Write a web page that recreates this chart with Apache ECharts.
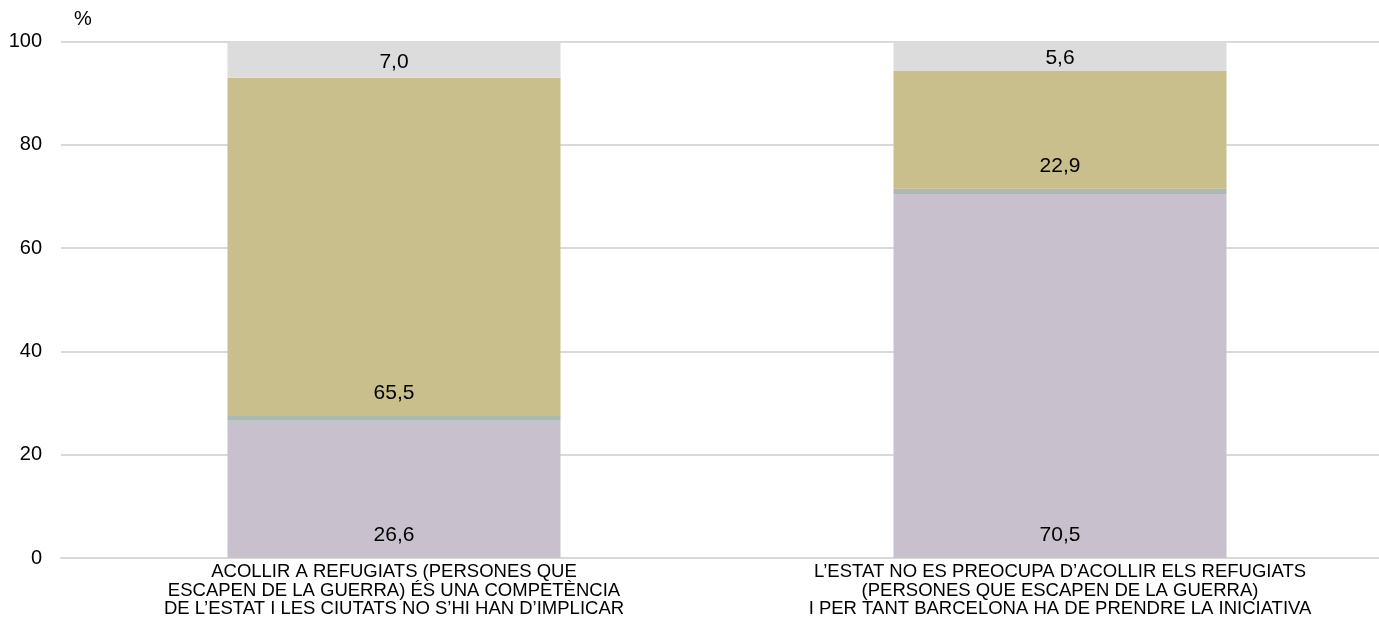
<!DOCTYPE html>
<html>
<head>
<meta charset="utf-8">
<script src="https://cdn.jsdelivr.net/npm/echarts@6/dist/echarts.min.js"></script>
<style>
  html, body { margin: 0; padding: 0; background: #fff; }
  #chart { width: 1379px; height: 623px; }
</style>
</head>
<body>
<div id="chart"></div>
<script>
// categories (statements)
var categories = [
    "ACOLLIR A REFUGIATS (PERSONES QUE\nESCAPEN DE LA GUERRA) ÉS UNA COMPETÈNCIA\nDE L\u2019ESTAT I LES CIUTATS NO S\u2019HI HAN D\u2019IMPLICAR",
    "L\u2019ESTAT NO ES PREOCUPA D\u2019ACOLLIR ELS REFUGIATS\n(PERSONES QUE ESCAPEN DE LA GUERRA)\nI PER TANT BARCELONA HA DE PRENDRE LA INICIATIVA"
];
// series values (%)
var deAcord = [26.6, 70.5];
var niUnaNiAltra = [0.9, 1.0];
var enDesacord = [65.5, 22.9];
var nsnc = [7.0, 5.6];

var yTicks = [0, 20, 40, 60, 80, 100];

var chart = echarts.init(document.getElementById('chart'));

function fmt(p) {
    return p.value.toFixed(1).replace('.', ',');
}

var labelBase = {
    show: true,
    formatter: fmt,
    color: '#000',
    fontFamily: 'Liberation Sans, Arial, sans-serif',
    fontSize: 21
};

var option = {
    animation: false,
    grid: {
        left: 61,
        top: 41.7,
        bottom: 65,
        width: 1332,
        outerBoundsMode: 'none'
    },
    xAxis: {
        type: 'category',
        data: categories,
        axisTick: { show: false },
        axisLine: { lineStyle: { color: '#d9d9d9', width: 2 } },
        axisLabel: {
            color: '#000',
            fontFamily: 'Liberation Sans, Arial, sans-serif',
            fontSize: 18.5,
            lineHeight: 18.5,
            margin: 5,
            interval: 0
        }
    },
    yAxis: {
        type: 'value',
        min: yTicks[0],
        max: yTicks[yTicks.length - 1],
        interval: 20,
        name: '%',
        nameLocation: 'end',
        nameGap: 12,
        nameTextStyle: {
            color: '#000',
            fontFamily: 'Liberation Sans, Arial, sans-serif',
            fontSize: 20,
            align: 'left',
            padding: [0, 0, 0, 13]
        },
        axisLine: { show: false },
        axisTick: { show: false },
        splitLine: { lineStyle: { color: '#d9d9d9', width: 2 } },
        axisLabel: {
            color: '#000',
            fontFamily: 'Liberation Sans, Arial, sans-serif',
            fontSize: 20,
            margin: 19
        }
    },
    series: [
        {
            name: "D'acord",
            type: 'bar',
            stack: 'total',
            barWidth: 333,
            data: deAcord,
            itemStyle: { color: '#c8c0cc' },
            label: Object.assign({}, labelBase, { position: 'insideBottom', distance: 12 })
        },
        {
            name: 'Ni una ni altra',
            type: 'bar',
            stack: 'total',
            data: niUnaNiAltra,
            itemStyle: { color: '#a9bab4' },
            label: { show: false }
        },
        {
            name: 'En desacord',
            type: 'bar',
            stack: 'total',
            data: enDesacord,
            itemStyle: { color: '#c8bf8c' },
            label: Object.assign({}, labelBase, { position: 'insideBottom', distance: 12 })
        },
        {
            name: 'NS/NC',
            type: 'bar',
            stack: 'total',
            data: nsnc,
            itemStyle: { color: '#dcdcdc' },
            label: Object.assign({}, labelBase, { position: 'inside', offset: [0, 2] })
        }
    ]
};

chart.setOption(option);
</script>
</body>
</html>
